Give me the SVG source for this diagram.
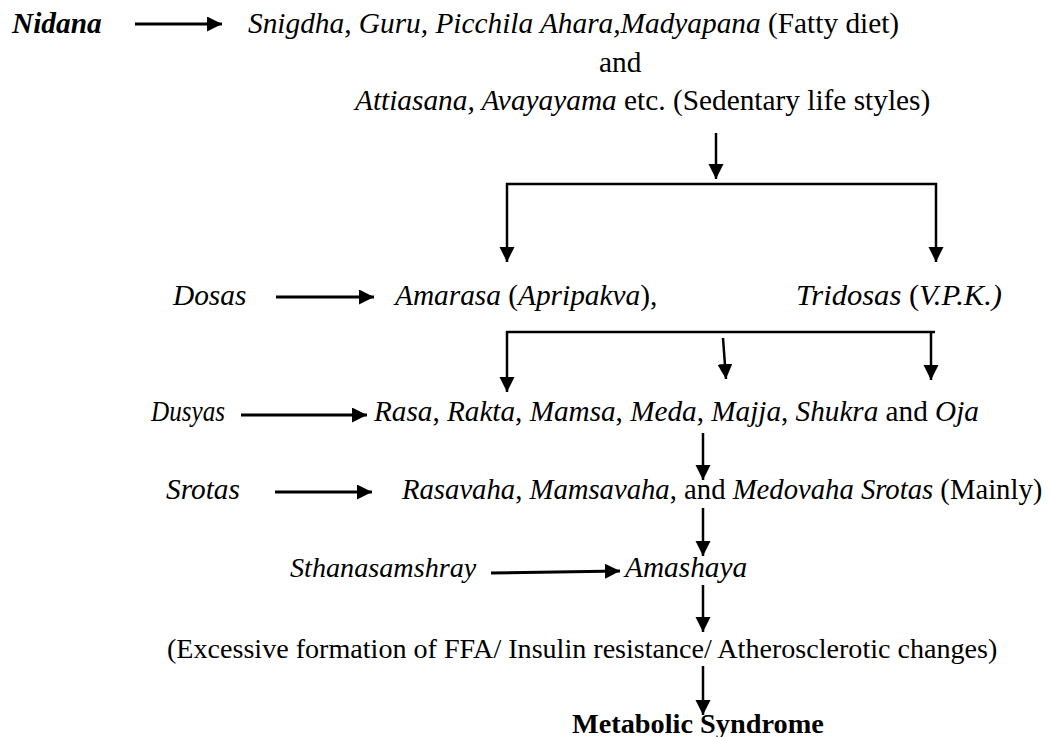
<svg xmlns="http://www.w3.org/2000/svg" width="1050" height="737" viewBox="0 0 1050 737">
<style>
text{font-family:"Liberation Serif","Times New Roman",serif;font-size:29.33px;fill:#000}
.i{font-style:italic}
.b{font-weight:bold}
.c line,.c path{stroke:#000;stroke-width:2.5;fill:none}
.c .h{stroke-width:3}
</style>
<defs>
<marker id="ah" markerUnits="userSpaceOnUse" markerWidth="16" markerHeight="16" refX="15" refY="7.5" orient="auto">
<path d="M0,0 L15,7.5 L0,15 z" fill="#000"/>
</marker>
</defs>
<rect width="1050" height="737" fill="#fff"/>
<g id="nidana"><text x="12" y="33" class="i b">Nidana</text></g>
<g id="fatty"><text x="248" y="33"><tspan class="i">Snigdha</tspan>, <tspan class="i">Guru, Picchila Ahara,Madyapana</tspan> (Fatty diet)</text></g>
<g id="and"><text x="599" y="72">and</text></g>
<g id="sedentary"><text x="355" y="110"><tspan class="i">Attiasana, Avayayama</tspan> etc. (Sedentary life styles)</text></g>
<g id="dosas"><text x="173" y="305" class="i">Dosas</text></g>
<g id="amarasa"><text x="395" y="305"><tspan class="i">Amarasa</tspan> (<tspan class="i">Apripakva</tspan>),</text></g>
<g id="tridosas"><text x="796" y="305" textLength="206" lengthAdjust="spacingAndGlyphs"><tspan class="i">Tridosas</tspan> (<tspan class="i">V.P.K.)</tspan></text></g>
<g id="dusyas"><text x="151" y="421" class="i" textLength="74" lengthAdjust="spacingAndGlyphs">Dusyas</text></g>
<g id="dhatus"><text x="374" y="421" style="font-size:29.2px"><tspan class="i">Rasa</tspan>, <tspan class="i">Rakta</tspan>, <tspan class="i">Mamsa</tspan>, <tspan class="i">Meda</tspan>, <tspan class="i">Majja</tspan>, <tspan class="i">Shukra</tspan> and <tspan class="i">Oja</tspan></text></g>
<g id="srotas"><text x="166" y="499" class="i">Srotas</text></g>
<g id="srotas-list"><text x="402" y="499" style="font-size:28.7px"><tspan class="i">Rasavaha</tspan>, <tspan class="i">Mamsavaha</tspan>, and <tspan class="i">Medovaha Srotas</tspan> (Mainly)</text></g>
<g id="sthana"><text x="290" y="577" class="i" style="font-size:28.2px">Sthanasamshray</text></g>
<g id="amashaya"><text x="625" y="577" class="i">Amashaya</text></g>
<g id="changes"><text x="167" y="658" style="font-size:28.1px">(Excessive formation of FFA/ Insulin resistance/ Atherosclerotic changes)</text></g>
<g id="metabolic"><text x="572" y="733" class="b" style="font-size:28.3px">Metabolic Syndrome</text></g>
<g id="connectors" class="c">
<line class="h" x1="135" y1="24" x2="222" y2="24" marker-end="url(#ah)"/>
<line x1="716" y1="133" x2="716" y2="179" marker-end="url(#ah)"/>
<line x1="506" y1="184" x2="937" y2="184"/>
<line x1="507" y1="183" x2="507" y2="262" marker-end="url(#ah)"/>
<line x1="936" y1="183" x2="936" y2="262" marker-end="url(#ah)"/>
<line class="h" x1="276" y1="297" x2="374" y2="297" marker-end="url(#ah)"/>
<line x1="506" y1="332" x2="935" y2="332"/>
<line x1="507" y1="331" x2="507" y2="392" marker-end="url(#ah)"/>
<line x1="723" y1="338" x2="726" y2="379" marker-end="url(#ah)"/>
<line x1="931" y1="331" x2="931" y2="380" marker-end="url(#ah)"/>
<line class="h" x1="241" y1="415" x2="367" y2="415" marker-end="url(#ah)"/>
<line x1="703" y1="433" x2="703" y2="480" marker-end="url(#ah)"/>
<line class="h" x1="275" y1="492" x2="372" y2="492" marker-end="url(#ah)"/>
<line x1="703" y1="508" x2="703" y2="556" marker-end="url(#ah)"/>
<line class="h" x1="491" y1="573" x2="620" y2="571" marker-end="url(#ah)"/>
<line x1="703" y1="585" x2="703" y2="632" marker-end="url(#ah)"/>
<line x1="703" y1="666" x2="703" y2="715" marker-end="url(#ah)"/>
</g>
</svg>
